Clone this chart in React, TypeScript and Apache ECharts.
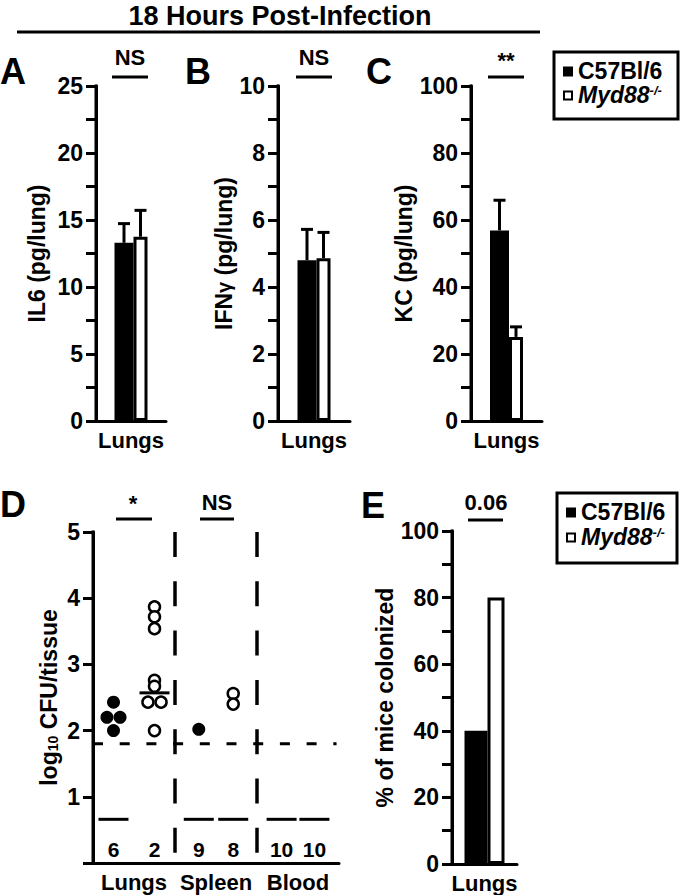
import React, { useEffect, useRef } from 'react';
import * as echarts from 'echarts';

const FONT = '"Liberation Sans", Arial, Helvetica, sans-serif';

// ---------------- data ----------------
const strains = ['C57Bl/6', 'Myd88-/-'];
const cytokineCategory = ['Lungs'];

const il6Mean = [13.3, 13.75];
const il6Sem = [1.43, 1.97];
const ifngMean = [4.8, 4.86];
const ifngSem = [0.92, 0.77];
const kcMean = [56.9, 25.1];
const kcSem = [9.0, 3.0];
const pctColonized = [40, 80];

// axis ranges [min, max, interval]
const il6Axis = [0, 25, 5];
const ifngAxis = [0, 10, 2];
const kcAxis = [0, 100, 20];
const cfuAxis = [0, 5, 1];
const pctAxis = [0, 100, 20];

const tissues = ['Lungs', 'Spleen', 'Blood'];
const cfuB6 = [[2.43, 2.2, 2.2, 2.0], [2.02], []];
const cfuKO = [[3.87, 3.72, 3.54, 2.76, 2.67, 2.43, 2.43, 2.0], [2.56, 2.4], []];
const jitterB6 = [[0, -1, 1, 0], [0], []];
const jitterKO = [[0, 0, 0, 0, 0, -1, 1, 0], [0, 0], []];
const meanKOLungs = 2.57;
const notColonizedB6 = [6, 9, 10];
const notColonizedKO = [2, 8, 10];
const belowLimitMarkB6 = [true, true, true];
const belowLimitMarkKO = [false, true, true];
const detectionLimit = 1.8;
const belowLimitLevel = 0.66;
const countLabelLevel = 0.2;

// ---------------- styles / layout ----------------
const BLACK = '#000';
const AX_W = 3;
const TICK_LEN = 10;
const BAR_W_ABC = [19, 14];
const BAR_W_E = [23, 17];
const COL_OFFSET = [0.25, 0.21, 0.2];
const JITTER = 0.08;
const D_X_MIN = -0.5;
const D_X_MAX = 2.5;
const D_DASH_END = 2.47;
const SEG_HALF = 15;

const GRIDS = [
  { left: 96, top: 86, width: 70, height: 335 },
  { left: 278, top: 86, width: 72, height: 335 },
  { left: 471, top: 86, width: 71, height: 335 },
  { left: 93, top: 532, width: 246, height: 331 },
  { left: 452, top: 531, width: 65, height: 333 },
];

const colX = (t: number, g: number) => t + (g === 0 ? -1 : 1) * COL_OFFSET[t];

function barOffset(widths: number[], i: number) {
  const total = widths[0] + widths[1];
  return i === 0 ? -total / 2 + widths[0] / 2 : total / 2 - widths[1] / 2;
}

const txt = (size: number, extra: any = {}) => ({
  fontFamily: FONT,
  fontWeight: 'bold',
  fontSize: size,
  color: BLACK,
  ...extra,
});

function yAxisBar(gridIndex: number, range: number[], name: any, nameGap: number, minor = true, rich?: any) {
  const nameTextStyle: any = { ...txt(23) };
  if (rich) nameTextStyle.rich = rich;
  return {
    type: 'value',
    gridIndex,
    min: range[0],
    max: range[1],
    interval: range[2],
    name,
    nameLocation: 'middle',
    nameRotate: 90,
    nameGap,
    nameTextStyle,
    axisLine: { show: true, onZero: false, lineStyle: { color: BLACK, width: AX_W } },
    axisTick: { show: true, length: TICK_LEN, lineStyle: { color: BLACK, width: AX_W } },
    minorTick: { show: minor, splitNumber: 2, length: TICK_LEN, lineStyle: { color: BLACK, width: AX_W } },
    splitLine: { show: false },
    minorSplitLine: { show: false },
    axisLabel: { ...txt(23), margin: TICK_LEN + 3 },
  };
}

function xAxisCat(gridIndex: number, data: string[]) {
  return {
    type: 'category',
    gridIndex,
    data,
    axisLine: { show: true, onZero: false, lineStyle: { color: BLACK, width: AX_W } },
    axisTick: { show: false },
    axisLabel: { ...txt(22), margin: 8, interval: 0 },
  };
}

function barPair(xi: number, yi: number, means: number[], widths: number[]) {
  return means.map((m, i) => ({
    type: 'bar',
    name: strains[i],
    xAxisIndex: xi,
    yAxisIndex: yi,
    data: [m],
    barWidth: widths[i],
    barGap: '0%',
    itemStyle: { color: i === 0 ? BLACK : '#fff', borderColor: BLACK, borderWidth: 3 },
  }));
}

function errorSeries(xi: number, yi: number, means: number[], sems: number[], widths: number[]) {
  return {
    type: 'custom',
    xAxisIndex: xi,
    yAxisIndex: yi,
    z: 5,
    data: means.map((m, i) => [0, m, sems[i], i]),
    encode: { x: 0, y: 1 },
    renderItem: (params: any, api: any) => {
      const i = api.value(3);
      const p0 = api.coord([api.value(0), api.value(1)]);
      const p1 = api.coord([api.value(0), api.value(1) + api.value(2)]);
      const x = p0[0] + barOffset(widths, i);
      const st = { stroke: BLACK, lineWidth: 3 };
      return {
        type: 'group',
        children: [
          { type: 'line', shape: { x1: x, y1: p0[1], x2: x, y2: p1[1] }, style: st },
          { type: 'line', shape: { x1: x - 6, y1: p1[1], x2: x + 6, y2: p1[1] }, style: st },
        ],
      };
    },
  };
}

function segRender(params: any, api: any) {
  const p = api.coord([api.value(0), api.value(1)]);
  return {
    type: 'line',
    shape: { x1: p[0] - SEG_HALF, y1: p[1], x2: p[0] + SEG_HALF, y2: p[1] },
    style: { stroke: BLACK, lineWidth: 3 },
  };
}

function legendGroup(x: number, y: number, w: number, h: number, row1: number, row2: number) {
  return {
    type: 'group',
    children: [
      { type: 'rect', shape: { x, y, width: w, height: h }, style: { fill: '#fff', stroke: BLACK, lineWidth: 3 } },
      { type: 'rect', shape: { x: x + 9, y: row1 - 4.5, width: 10, height: 10 }, style: { fill: BLACK } },
      { type: 'rect', shape: { x: x + 10, y: row2 - 3.5, width: 8, height: 8 }, style: { fill: '#fff', stroke: BLACK, lineWidth: 2 } },
      {
        type: 'text',
        x: x + 24,
        y: row1,
        style: { text: strains[0], fontFamily: FONT, fontWeight: 'bold', fontSize: 23, fill: BLACK, align: 'left', verticalAlign: 'middle' },
      },
      {
        type: 'text',
        x: x + 24,
        y: row2,
        style: {
          text: '{m|Myd88}{s|-/-}',
          align: 'left',
          verticalAlign: 'middle',
          fill: BLACK,
          rich: {
            m: { fontFamily: FONT, fontWeight: 'bold', fontStyle: 'italic', fontSize: 23, fill: BLACK },
            s: { fontFamily: FONT, fontWeight: 'bold', fontStyle: 'italic', fontSize: 13, fill: BLACK, verticalAlign: 'top' },
          },
        },
      },
    ],
  };
}

function sig(label: string, cx: number, ty: number, x1: number, x2: number, ly: number) {
  return [
    { type: 'text', x: cx, y: ty, style: { text: label, fontFamily: FONT, fontWeight: 'bold', fontSize: 22, fill: BLACK, align: 'center', verticalAlign: 'middle' } },
    { type: 'line', shape: { x1, y1: ly, x2, y2: ly }, style: { stroke: BLACK, lineWidth: 3 } },
  ];
}

function letter(l: string, x: number, y: number) {
  return { type: 'text', x, y, style: { text: l, fontFamily: FONT, fontWeight: 'bold', fontSize: 36, fill: BLACK, align: 'left', verticalAlign: 'middle' } };
}

// reinforce each vertical axis line along its grid's left edge (filled strips)
function gridAxisStrips() {
  return GRIDS.map((g) => ({
    type: 'rect',
    z: 101,
    silent: true,
    shape: { x: g.left - AX_W / 2, y: g.top - AX_W / 2, width: AX_W, height: g.height + AX_W },
    style: { fill: BLACK },
  }));
}

export default function App() {
  const ref = useRef<HTMLDivElement>(null);

  useEffect(() => {
    document.body.style.margin = '0';
    if (!ref.current) return;
    const chart = echarts.init(ref.current, null, { renderer: 'svg' });

    const b6Points: number[][] = [];
    const koPoints: number[][] = [];
    cfuB6.forEach((vals, t) => vals.forEach((v, k) => b6Points.push([colX(t, 0) + jitterB6[t][k] * JITTER, v])));
    cfuKO.forEach((vals, t) => vals.forEach((v, k) => koPoints.push([colX(t, 1) + jitterKO[t][k] * JITTER, v])));

    const belowMarks: number[][] = [];
    const counts: number[][] = [];
    tissues.forEach((_, t) => {
      if (belowLimitMarkB6[t]) belowMarks.push([colX(t, 0), belowLimitLevel]);
      if (belowLimitMarkKO[t]) belowMarks.push([colX(t, 1), belowLimitLevel]);
      counts.push([colX(t, 0), countLabelLevel, notColonizedB6[t]]);
      counts.push([colX(t, 1), countLabelLevel, notColonizedKO[t]]);
    });

    const option: any = {
      animation: false,
      backgroundColor: '#fff',
      grid: GRIDS,
      xAxis: [
        xAxisCat(0, cytokineCategory),
        xAxisCat(1, cytokineCategory),
        xAxisCat(2, cytokineCategory),
        xAxisCat(3, tissues),
        { type: 'value', gridIndex: 3, min: D_X_MIN, max: D_X_MAX, show: false, axisLine: { onZero: false } },
        xAxisCat(4, cytokineCategory),
      ],
      yAxis: [
        yAxisBar(0, il6Axis, 'IL6 (pg/lung)', 48),
        yAxisBar(1, ifngAxis, '{t|IFN}{g|γ}{t| (pg/lung)}', 40, true, {
          t: txt(23),
          g: { fontFamily: FONT, fontSize: 20, color: BLACK },
        }),
        yAxisBar(2, kcAxis, 'KC (pg/lung)', 51),
        {
          ...yAxisBar(3, cfuAxis, '{t|log}{s|10}{t| CFU/tissue}', 33, false, {
            t: txt(23),
            s: { ...txt(14), verticalAlign: 'bottom' },
          }),
          axisLabel: { ...txt(23), margin: TICK_LEN + 3, formatter: (v: number) => (v === 0 ? '' : String(v)) },
        },
        yAxisBar(4, pctAxis, '% of mice colonized', 42),
      ],
      series: [
        ...barPair(0, 0, il6Mean, BAR_W_ABC),
        errorSeries(0, 0, il6Mean, il6Sem, BAR_W_ABC),
        ...barPair(1, 1, ifngMean, BAR_W_ABC),
        errorSeries(1, 1, ifngMean, ifngSem, BAR_W_ABC),
        ...barPair(2, 2, kcMean, BAR_W_ABC),
        errorSeries(2, 2, kcMean, kcSem, BAR_W_ABC),
        ...barPair(5, 4, pctColonized, BAR_W_E),
        // panel D: separators
        {
          type: 'custom',
          xAxisIndex: 4,
          yAxisIndex: 3,
          data: [[0.5, cfuAxis[1]], [1.5, cfuAxis[1]]],
          encode: { x: 0, y: 1 },
          z: 1,
          renderItem: (params: any, api: any) => {
            const top = api.coord([api.value(0), cfuAxis[1]]);
            const bot = api.coord([api.value(0), 0.12]);
            return {
              type: 'line',
              shape: { x1: top[0], y1: top[1], x2: bot[0], y2: bot[1] },
              style: { stroke: BLACK, lineWidth: 3.5, lineDash: [25, 24.3] },
            };
          },
        },
        // detection limit
        {
          type: 'custom',
          xAxisIndex: 4,
          yAxisIndex: 3,
          data: [[D_X_MIN, detectionLimit]],
          encode: { x: 0, y: 1 },
          z: 1,
          renderItem: (params: any, api: any) => {
            const a = api.coord([D_X_MIN, api.value(1)]);
            const b = api.coord([D_DASH_END, api.value(1)]);
            return {
              type: 'line',
              shape: { x1: a[0], y1: a[1], x2: b[0], y2: b[1] },
              style: { stroke: BLACK, lineWidth: 3, lineDash: [10, 16.7] },
            };
          },
        },
        // uncolonized marks
        { type: 'custom', xAxisIndex: 4, yAxisIndex: 3, data: belowMarks, encode: { x: 0, y: 1 }, renderItem: segRender, z: 3 },
        // mean line
        { type: 'custom', xAxisIndex: 4, yAxisIndex: 3, data: [[colX(0, 1), meanKOLungs]], encode: { x: 0, y: 1 }, renderItem: segRender, z: 6 },
        // counts
        {
          type: 'custom',
          xAxisIndex: 4,
          yAxisIndex: 3,
          data: counts,
          encode: { x: 0, y: 1 },
          z: 3,
          renderItem: (params: any, api: any) => {
            const p = api.coord([api.value(0), api.value(1)]);
            return {
              type: 'text',
              x: p[0],
              y: p[1],
              style: { text: String(api.value(2)), fontFamily: FONT, fontWeight: 'bold', fontSize: 21, fill: BLACK, align: 'center', verticalAlign: 'middle' },
            };
          },
        },
        {
          type: 'scatter',
          name: strains[0],
          xAxisIndex: 4,
          yAxisIndex: 3,
          data: b6Points,
          symbol: 'circle',
          symbolSize: 13,
          itemStyle: { color: BLACK, opacity: 1 },
          z: 4,
        },
        {
          type: 'scatter',
          name: strains[1],
          xAxisIndex: 4,
          yAxisIndex: 3,
          data: koPoints,
          symbol: 'circle',
          symbolSize: 11,
          itemStyle: { color: '#fff', borderColor: BLACK, borderWidth: 2.5, opacity: 1 },
          z: 5,
        },
      ],
      graphic: [
        ...gridAxisStrips(),
        { type: 'text', x: 280, y: 16, style: { text: '18 Hours Post-Infection', fontFamily: FONT, fontWeight: 'bold', fontSize: 27, fill: BLACK, align: 'center', verticalAlign: 'middle' } },
        { type: 'line', shape: { x1: 17, y1: 32, x2: 540, y2: 32 }, style: { stroke: BLACK, lineWidth: 3 } },
        letter('A', 0, 71),
        letter('B', 185, 71),
        letter('C', 366, 71),
        letter('D', 0, 504),
        letter('E', 361, 505),
        ...sig('NS', 130, 57, 112, 148, 77),
        ...sig('NS', 314, 57, 296, 332, 77),
        ...sig('**', 506, 60, 488, 524, 77),
        ...sig('*', 133, 503, 116, 152, 519),
        ...sig('NS', 217, 502, 200, 234, 519),
        ...sig('0.06', 486, 502, 468, 503, 520),
        legendGroup(554, 52, 124, 67, 71, 95),
        legendGroup(557, 493, 120, 70, 512, 537),
      ],
    };

    chart.setOption(option);
    return () => chart.dispose();
  }, []);

  return <div ref={ref} style={{ width: 680, height: 895 }} />;
}
